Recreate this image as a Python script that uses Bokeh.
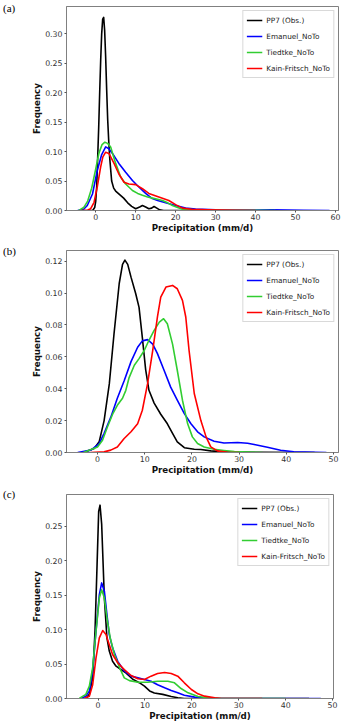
from bokeh.plotting import figure
from bokeh.layouts import column, row
from bokeh.models import (Range1d, FixedTicker, Legend, LegendItem, Div,
                          PrintfTickFormatter)
from bokeh.embed import file_html
from bokeh.resources import INLINE

# ---------------- data ----------------
series_names = ["PP7 (Obs.)", "Emanuel_NoTo", "Tiedtke_NoTo", "Kain-Fritsch_NoTo"]

# Panel (a)
a_obs_x = [-1.5, -0.75, -0.25, 0.0, 0.25, 0.5, 0.75, 1.0, 1.25, 1.5, 1.75, 2.0, 2.25, 2.5, 2.75, 3.0,
           3.25, 3.5, 4.0, 4.5, 5.0, 6.0, 7.0, 8.0, 9.0, 10.0, 11.0, 11.7, 12.5, 13.3, 14.0, 14.6,
           15.3, 16.0, 17.0, 25.0]
a_obs_y = [0, 0, 0.005, 0.015, 0.04, 0.09, 0.14, 0.2, 0.255, 0.3, 0.325, 0.328, 0.305, 0.26, 0.205, 0.155,
           0.12, 0.09, 0.05, 0.038, 0.033, 0.027, 0.021, 0.013, 0.007, 0.003, 0.006, 0.0085, 0.006, 0.003, 0.004, 0.0068,
           0.004, 0.001, 0, 0]
a_ema_x = [-4.5, -3.0, -2.1, -0.8, 0.4, 1.5, 2.5, 3.3, 4.2, 5.8, 7.5, 9.2, 10.8, 12.5, 14.0, 15.5, 17.5,
           20.0, 22.5, 25.0, 30.0, 35.0, 40.0, 44.0, 48.0, 52.0, 58.5]
a_ema_y = [0, 0.002, 0.0085, 0.028, 0.068, 0.095, 0.108, 0.105, 0.097, 0.08, 0.065, 0.051, 0.04, 0.029, 0.021,
           0.017, 0.013, 0.0085, 0.004, 0.0025, 0.0012, 0.0008, 0.0008, 0.001, 0.0006, 0.0002, 0]
a_tie_x = [-4.2, -3.0, -2.0, -1.0, 0.0, 0.8, 1.6, 2.3, 3.0, 3.75, 4.4, 5.0, 6.25, 7.5, 9.2, 10.5, 11.7,
           13.0, 14.2, 15.5, 16.7, 18.0, 19.2, 20.5, 21.7, 25.0, 30.0, 45.0]
a_tie_y = [0, 0.005, 0.016, 0.038, 0.07, 0.097, 0.112, 0.116, 0.114, 0.108, 0.093, 0.08, 0.057, 0.045, 0.034,
           0.029, 0.026, 0.023, 0.021, 0.019, 0.017, 0.013, 0.0085, 0.005, 0.002, 0.0012, 0.0005, 0]
a_kf_x = [-3.5, -2.0, -1.25, -0.4, 0.4, 1.25, 1.8, 2.5, 3.3, 4.6, 5.8, 7.1, 8.3, 10.0, 11.7, 13.3, 15.8,
          18.3, 20.0, 21.7, 24.0, 28.0, 35.0, 40.0]
a_kf_y = [0, 0.0008, 0.003, 0.014, 0.04, 0.074, 0.091, 0.099, 0.097, 0.08, 0.062, 0.048, 0.045, 0.044, 0.037,
          0.029, 0.023, 0.017, 0.01, 0.004, 0.002, 0.001, 0.0003, 0]

# Panel (b)
b_obs_x = [-3.0, -0.7, 0.35, 1.4, 2.5, 3.5, 4.6, 5.3, 5.8, 6.4, 7.1, 8.1, 8.8, 9.5, 10.2, 10.9, 12.0, 13.4,
           14.8, 15.9, 16.9, 18.4, 20.5, 21.9, 24.0, 26.8, 35.0, 46.0]
b_obs_y = [0, 0.0025, 0.0067, 0.02, 0.043, 0.0745, 0.106, 0.118, 0.1207, 0.118, 0.11, 0.0996, 0.091, 0.072,
           0.052, 0.039, 0.031, 0.024, 0.018, 0.012, 0.0067, 0.003, 0.002, 0.0019, 0.001, 0.0004, 0.0001, 0]
b_ema_x = [-4.2, -1.4, 0.35, 1.4, 2.8, 4.2, 5.65, 7.1, 8.5, 9.5, 10.6, 11.7, 12.7, 14.1, 15.5, 16.9, 18.4,
           19.8, 21.2, 22.6, 24.7, 26.8, 29.7, 31.8, 33.2, 36.0, 38.8, 41.6, 48.5]
b_ema_y = [0, 0.0015, 0.0056, 0.012, 0.022, 0.034, 0.045, 0.057, 0.066, 0.07, 0.0708, 0.068, 0.062, 0.0516,
           0.041, 0.0328, 0.0244, 0.018, 0.013, 0.0098, 0.0071, 0.006, 0.0063, 0.0058, 0.005, 0.0033, 0.0014,
           0.0005, 0]
b_tie_x = [-3.0, 0.0, 1.06, 2.1, 3.2, 4.2, 5.3, 6.0, 6.7, 7.8, 8.8, 9.9, 10.9, 12.0, 13.1, 14.0, 14.8, 15.9,
           16.9, 18.0, 19.1, 20.1, 21.2, 22.6, 24.7, 26.8, 29.0, 35.0]
b_tie_y = [0, 0.0035, 0.0077, 0.016, 0.024, 0.0296, 0.034, 0.039, 0.047, 0.0547, 0.0589, 0.064, 0.0704,
           0.0766, 0.0818, 0.0839, 0.0808, 0.068, 0.0516, 0.0328, 0.018, 0.0098, 0.0056, 0.0035, 0.002, 0.0013,
           0.0006, 0]
b_kf_x = [-1.5, 1.4, 2.8, 4.2, 5.65, 7.1, 8.5, 9.5, 10.6, 11.7, 12.7, 13.4, 14.5, 15.9, 16.9, 18.0, 18.7,
          19.4, 20.5, 21.9, 23.0, 24.0, 25.4, 27.5, 30.0]
b_kf_y = [0, 0.0004, 0.0015, 0.0035, 0.0088, 0.013, 0.018, 0.0265, 0.043, 0.064, 0.085, 0.0975, 0.1038,
          0.1048, 0.1027, 0.0954, 0.085, 0.064, 0.037, 0.02, 0.0098, 0.0035, 0.001, 0.0002, 0]

# Panel (c)
c_obs_x = [-2.6, -1.85, -1.14, -0.64, -0.2, 0.14, 0.43, 0.78, 1.35, 1.9, 2.4, 3.1, 3.85, 4.9, 6.0, 7.4, 8.8,
           9.9, 11.0, 12.0, 13.8, 15.6, 17.0, 18.4, 30.0, 45.0]
c_obs_y = [0, 0.006, 0.03, 0.098, 0.195, 0.272, 0.281, 0.253, 0.146, 0.088, 0.069, 0.054, 0.047, 0.042,
           0.037, 0.028, 0.023, 0.018, 0.011, 0.008, 0.006, 0.003, 0.001, 0, 0, 0]
c_ema_x = [-3.6, -2.6, -1.85, -1.14, -0.43, 0.28, 0.78, 1.35, 1.9, 2.4, 3.1, 4.2, 5.6, 7.05, 8.5, 9.9, 11.3,
           12.7, 14.2, 15.6, 17.0, 18.4, 20.6, 22.7, 26.0, 47.5]
c_ema_y = [0, 0.0034, 0.0107, 0.04, 0.098, 0.151, 0.168, 0.156, 0.122, 0.093, 0.0736, 0.054, 0.04, 0.0325,
           0.03, 0.0276, 0.025, 0.02, 0.0155, 0.0116, 0.0082, 0.0048, 0.002, 0.0005, 0, 0]
c_tie_x = [-4.0, -2.6, -1.85, -1.14, -0.43, 0.28, 0.78, 1.35, 1.9, 2.6, 3.5, 4.6, 5.6, 6.7, 8.5, 10.6, 12.7,
           14.9, 16.3, 17.7, 19.2, 21.3, 23.4, 26.0, 40.0]
c_tie_y = [0, 0.006, 0.018, 0.045, 0.098, 0.146, 0.158, 0.146, 0.117, 0.088, 0.064, 0.0446, 0.03, 0.026,
           0.0237, 0.0237, 0.025, 0.025, 0.0228, 0.0145, 0.0082, 0.003, 0.001, 0, 0]
c_kf_x = [-2.9, -1.85, -1.14, -0.43, 0.28, 1.0, 1.7, 2.4, 3.1, 4.2, 5.6, 7.05, 8.5, 9.9, 11.3, 12.7, 14.2,
          15.6, 17.0, 18.4, 19.9, 21.3, 22.7, 24.9, 26.3, 35.0]
c_kf_y = [0, 0.0034, 0.02, 0.059, 0.088, 0.0988, 0.093, 0.078, 0.064, 0.052, 0.042, 0.0334, 0.0286, 0.0276,
          0.0325, 0.0363, 0.0378, 0.0363, 0.0325, 0.0228, 0.0131, 0.0068, 0.0034, 0.001, 0, 0]

# ticks
a_xticks = [0, 10, 20, 30, 40, 50, 60]
a_yticks = [0.0, 0.05, 0.10, 0.15, 0.20, 0.25, 0.30]
a_ylabels = ["0.00", "0.05", "0.10", "0.15", "0.20", "0.25", "0.30"]
b_xticks = [0, 10, 20, 30, 40, 50]
b_yticks = [0.0, 0.02, 0.04, 0.06, 0.08, 0.10, 0.12]
b_ylabels = ["0.00", "0.02", "0.04", "0.06", "0.08", "0.10", "0.12"]
c_xticks = [0, 10, 20, 30, 40, 50]
c_yticks = [0.0, 0.05, 0.10, 0.15, 0.20, 0.25]
c_ylabels = ["0.00", "0.05", "0.10", "0.15", "0.20", "0.25"]

panel_tags = ["(a)", "(b)", "(c)"]
x_title = "Precipitation (mm/d)"
y_title = "Frequency"

# ---------------- style ----------------
colors = ["#000000", "#0000ff", "#32cd32", "#ff0000"]
FONT = "DejaVu Sans"
FRAME_COL = "#808080"
TAG_W = 20


def make_panel(tag, curves, xr, yr, xticks, yticks, ylabels, fw, fh, top, bottom, right, tag_top):
    p = figure(frame_width=fw, frame_height=fh,
               min_border_left=66 - TAG_W, min_border_right=right,
               min_border_top=top, min_border_bottom=bottom,
               x_range=Range1d(*xr), y_range=Range1d(*yr),
               output_backend="svg", toolbar_location=None,
               background_fill_color="white", border_fill_color="white")
    p.xgrid.visible = False
    p.ygrid.visible = False
    p.outline_line_color = FRAME_COL
    p.outline_line_width = 1

    p.xaxis.ticker = FixedTicker(ticks=xticks)
    p.yaxis.ticker = FixedTicker(ticks=yticks)
    p.yaxis.formatter = PrintfTickFormatter(format="%.2f")
    p.yaxis.major_label_overrides = {t: s for t, s in zip(yticks, ylabels)}

    for ax in (p.xaxis[0], p.yaxis[0]):
        ax.axis_line_color = FRAME_COL
        ax.major_tick_line_color = "#555555"
        ax.major_tick_out = 2
        ax.major_tick_in = 0
        ax.minor_tick_out = 0
        ax.minor_tick_in = 0
        ax.major_label_text_font = FONT
        ax.major_label_text_font_size = "7.8px"
        ax.major_label_text_color = "#333333"
        ax.axis_label_text_font = FONT
        ax.axis_label_text_font_size = "8.7px"
        ax.axis_label_text_font_style = "bold"
        ax.axis_label_text_color = "#111111"
    p.xaxis.axis_label = x_title
    p.yaxis.axis_label = y_title
    p.xaxis.major_label_standoff = 1
    p.xaxis.axis_label_standoff = 0
    p.yaxis.major_label_standoff = 2
    p.yaxis.axis_label_standoff = 0

    items = []
    for (xs, ys), name, col in zip(curves, series_names, colors):
        r = p.line(xs, ys, line_color=col, line_width=1.6, line_join="round")
        items.append(LegendItem(label=name, renderers=[r]))

    leg = Legend(items=items, location="top_right", margin=4, padding=3,
                 spacing=4, glyph_width=16, glyph_height=12, label_height=12,
                 label_standoff=4, label_text_font=FONT, label_text_font_size="7.3px",
                 label_text_color="#222222", border_line_color="#b3b3b3",
                 border_line_width=1, background_fill_color="white",
                 background_fill_alpha=0.9)
    p.add_layout(leg)

    fig_h = top + fh + bottom
    tag_div = Div(text=('<div style="font-family:\'Liberation Serif\',serif;font-size:11px;'
                        'font-weight:normal;line-height:12px;color:#000;margin:%dpx 0 0 3px;">%s</div>'
                        % (tag_top, tag)),
                  width=TAG_W, height=fig_h, margin=(0, 0, 0, 0))
    return row(tag_div, p, spacing=0)


pa = make_panel(panel_tags[0], [(a_obs_x, a_obs_y), (a_ema_x, a_ema_y), (a_tie_x, a_tie_y), (a_kf_x, a_kf_y)],
                (-7.3, 60.75), (0, 0.3465), a_xticks, a_yticks, a_ylabels,
                272, 204, 6, 25, 4, 1)
pb = make_panel(panel_tags[1], [(b_obs_x, b_obs_y), (b_ema_x, b_ema_y), (b_tie_x, b_tie_y), (b_kf_x, b_kf_y)],
                (-6.57, 51.06), (0, 0.1267), b_xticks, b_yticks, b_ylabels,
                272, 202, 15, 23, 4, 10)
pc = make_panel(panel_tags[2], [(c_obs_x, c_obs_y), (c_ema_x, c_ema_y), (c_tie_x, c_tie_y), (c_kf_x, c_kf_y)],
                (-6.72, 50.2), (0, 0.2965), c_xticks, c_yticks, c_ylabels,
                267, 204, 17, 25, 9, 11)

layout = column(pa, pb, pc, spacing=0)
open("out.html", "w").write(file_html(layout, INLINE))
